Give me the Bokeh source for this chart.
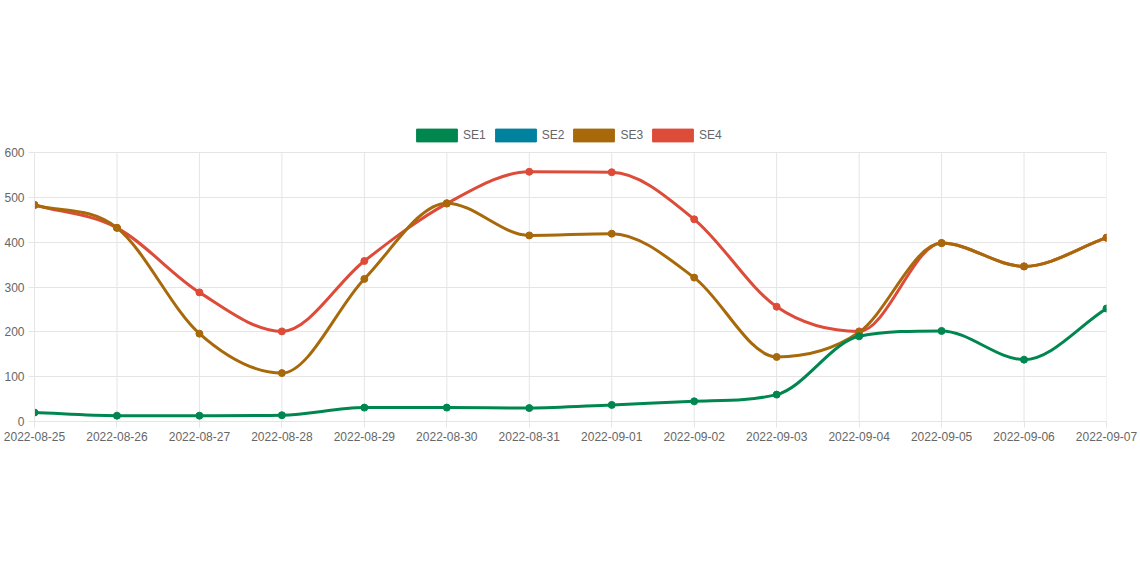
import numpy as np
from bokeh.plotting import figure
from bokeh.models import Range1d, FixedTicker, Legend, LegendItem, ColumnDataSource
from bokeh.embed import file_html
from bokeh.resources import INLINE

# ---- data ----
dates = ["2022-08-25", "2022-08-26", "2022-08-27", "2022-08-28", "2022-08-29",
         "2022-08-30", "2022-08-31", "2022-09-01", "2022-09-02", "2022-09-03",
         "2022-09-04", "2022-09-05", "2022-09-06", "2022-09-07"]
se1 = [20, 13, 13, 14, 31, 31, 30, 37, 45, 60, 190, 202, 138, 252]
se2 = []
se3 = [483, 432, 196, 108, 318, 487, 415, 419, 321, 144, 199, 398, 346, 410]
se4 = [483, 432, 288, 201, 358, 486, 557, 556, 451, 256, 201, 398, 346, 410]
y_ticks = [0, 100, 200, 300, 400, 500, 600]

series_names = ["SE1", "SE2", "SE3", "SE4"]
series_values = [se1, se2, se3, se4]
colors = ["#00864F", "#00819E", "#A8690A", "#DD4B39"]

FONT = "Liberation Sans"
TEXT = "#666666"
GRID = "#e5e5e5"

W, H = 1140, 570
LEFT, RIGHT, TOP, BOTTOM = 34, 34, 120, 149
PLOT_H = 269          # pixel height of the 0..600 band
Y_MAX = 600
FRAME_H = H - TOP - BOTTOM
Y_TOP = Y_MAX * FRAME_H / PLOT_H   # headroom above 600 holds the legend


def monotone_segments(xs, ys):
    """Monotone cubic (Fritsch-Carlson) bezier segments through the points."""
    x = np.asarray(xs, float)
    y = np.asarray(ys, float)
    n = len(x)
    dx = np.diff(x)
    dk = np.diff(y) / dx
    m = np.zeros(n)
    m[0] = dk[0]
    m[-1] = dk[-1]
    for i in range(1, n - 1):
        if np.sign(dk[i - 1]) != np.sign(dk[i]) or dk[i - 1] == 0 or dk[i] == 0:
            m[i] = 0.0
        else:
            m[i] = (dk[i - 1] + dk[i]) / 2
    for i in range(n - 1):
        if abs(dk[i]) < 1e-12:
            m[i] = m[i + 1] = 0.0
            continue
        a = m[i] / dk[i]
        b = m[i + 1] / dk[i]
        sq = a * a + b * b
        if sq > 9:
            tau = 3 / np.sqrt(sq)
            m[i] = a * tau * dk[i]
            m[i + 1] = b * tau * dk[i]
    h = dx / 3
    cy0 = np.clip(y[:-1] + m[:-1] * h, 0, Y_MAX)
    cy1 = np.clip(y[1:] - m[1:] * h, 0, Y_MAX)
    return dict(x0=x[:-1], y0=y[:-1], x1=x[1:], y1=y[1:],
                cx0=x[:-1] + h, cy0=cy0, cx1=x[1:] - h, cy1=cy1)


x_idx = np.arange(len(dates), dtype=float)

p = figure(width=W, height=H, output_backend="svg", toolbar_location=None,
           x_range=Range1d(0, len(dates) - 1), y_range=Range1d(0, Y_TOP),
           min_border_left=LEFT, min_border_right=RIGHT,
           min_border_top=TOP, min_border_bottom=BOTTOM)
p.outline_line_color = None
p.background_fill_color = "white"
p.border_fill_color = "white"

p.xaxis.ticker = FixedTicker(ticks=list(x_idx))
p.xaxis.major_label_overrides = {i: d for i, d in enumerate(dates)}
p.yaxis.ticker = FixedTicker(ticks=y_ticks)
p.yaxis.bounds = (0, Y_MAX)

for ax in (p.xaxis[0], p.yaxis[0]):
    ax.axis_line_color = GRID
    ax.major_tick_line_color = GRID
    ax.major_tick_out = 6
    ax.major_tick_in = 0
    ax.minor_tick_line_color = None
    ax.major_label_text_font = FONT
    ax.major_label_text_font_size = "12px"
    ax.major_label_text_color = TEXT
    ax.major_label_standoff = 4

# vertical grid lines stop at the top of the value band
p.xgrid.visible = False
p.segment(x0=x_idx, y0=[0] * len(x_idx), x1=x_idx, y1=[Y_MAX] * len(x_idx),
          line_color=GRID, line_width=1, level="underlay")
p.ygrid.ticker = p.yaxis[0].ticker
p.ygrid.grid_line_color = GRID

# lines drawn back to front: SE4, SE3, SE2, SE1 on top
for k in [3, 2, 1, 0]:
    vals = series_values[k]
    if len(vals) == 0:
        continue
    seg = monotone_segments(x_idx[:len(vals)], vals)
    p.bezier(x0="x0", y0="y0", x1="x1", y1="y1", cx0="cx0", cy0="cy0",
             cx1="cx1", cy1="cy1", source=ColumnDataSource(seg),
             line_color=colors[k], line_width=3)
    p.scatter(x=x_idx[:len(vals)], y=vals, size=7, fill_color=colors[k],
              line_color=colors[k], line_width=1)

# legend with filled boxes (swatch renderers hold no drawable data)
items = []
for name, col in zip(series_names, colors):
    r = p.quad(left=[np.nan], right=[np.nan], top=[np.nan], bottom=[np.nan],
               fill_color=col, line_color=col, line_width=1)
    items.append(LegendItem(label=name, renderers=[r]))

legend = Legend(items=items, orientation="horizontal", location=(377, 278),
                glyph_width=51, glyph_height=16, label_standoff=1, spacing=4,
                padding=0, margin=0, label_height=16,
                label_text_font=FONT, label_text_font_size="12px",
                label_text_color=TEXT, border_line_color=None,
                background_fill_alpha=0, click_policy="none")
p.add_layout(legend, "center")

open("out.html", "w").write(file_html(p, INLINE))
